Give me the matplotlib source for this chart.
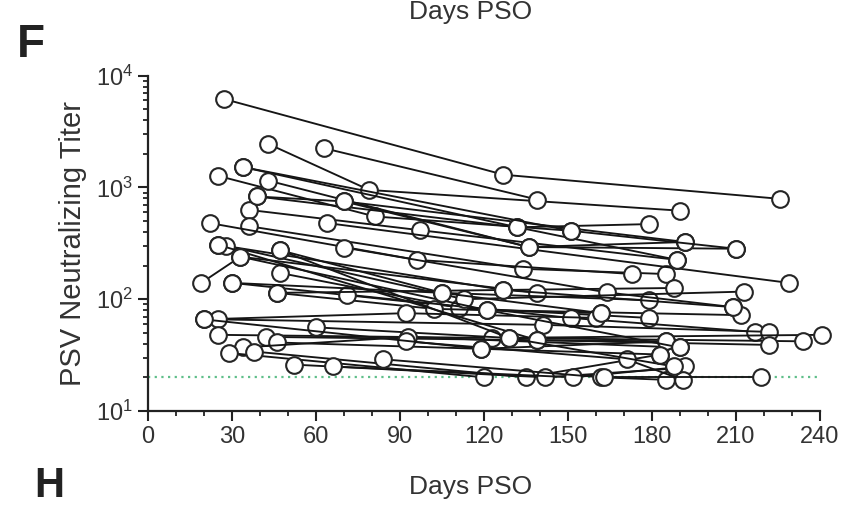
import matplotlib
matplotlib.use('Agg')
import matplotlib.pyplot as plt
from matplotlib.ticker import LogLocator, FixedLocator, NullFormatter

plt.rcParams['font.family'] = ['Liberation Sans', 'DejaVu Sans']
plt.rcParams['mathtext.fontset'] = 'custom'
plt.rcParams['mathtext.rm'] = 'Liberation Sans'
plt.rcParams['mathtext.it'] = 'Liberation Sans'

# days post symptom onset and PSV titer, one list per subject
days = [
    [27, 127, 226], [43, 79, 190], [63, 139], [34, 132, 179],
    [25, 81, 151], [43, 136, 210], [39, 70, 192], [36, 97, 189],
    [36, 134, 185], [22, 96, 173], [64, 229], [25, 127, 188],
    [19, 33, 139], [47, 105, 179], [70, 164, 209], [30, 121, 212],
    [47, 111, 179], [46, 102, 162], [71, 151, 217], [20, 92, 160],
    [25, 141, 222], [25, 123, 241], [60, 129, 234], [42, 139, 222],
    [46, 119, 185], [34, 93, 190], [29, 120], [38, 135, 183],
    [52, 142, 188], [66, 152, 192], [84, 162, 185], [92, 171, 191],
    [163, 219], [28, 113, 213], [25, 139, 185], [33, 121, 190],
    [47, 129, 188], [39, 132, 189], [70, 136, 192], [34, 151, 210],
    [46, 127, 209], [30, 105, 162], [20, 119, 183],
]
titers = [
    [6200, 1300, 790], [2450, 950, 620], [2240, 780], [1520, 440, 470],
    [1270, 550, 410], [1150, 293, 283], [830, 750, 325], [630, 415, 225],
    [450, 187, 168], [480, 225, 168], [480, 140], [307, 121, 126],
    [140, 240, 114], [275, 114, 98], [290, 115, 85], [140, 80, 72],
    [172, 84, 68], [114, 82, 75], [110, 68, 51], [66, 75, 68],
    [66, 59, 51], [48, 45, 48], [56, 45, 42], [46, 43, 39],
    [41, 36, 42], [37, 46, 37], [33, 20], [34, 20, 32],
    [26, 20, 24], [25, 20, 25], [29, 20, 19], [42, 29, 19],
    [20, 20], [300, 100, 117], [307, 43, 42], [240, 80, 37],
    [275, 45, 25], [830, 440, 225], [750, 293, 325], [1520, 410, 283],
    [114, 121, 85], [140, 114, 75], [66, 36, 32],
]
LOD = 20
xticks = [0, 30, 60, 90, 120, 150, 180, 210, 240]

fig = plt.figure(figsize=(8.61, 5.08), dpi=100)
ax = fig.add_axes([0.172, 0.191, 0.780, 0.660])

ax.axhline(LOD, color='#5fbf8a', lw=1.6, ls=(0, (1, 2)), zorder=1)

for d, t in zip(days, titers):
    ax.plot(d, t, color='#151515', lw=1.35, marker='o', ms=12,
            mfc='white', mec='#252525', mew=1.5, clip_on=False, zorder=3)

ax.set_yscale('log')
ax.set_ylim(10, 1e4)
ax.set_xlim(0, 240)
ax.set_yticks([10, 100, 1000, 10000])
ax.set_yticklabels([r'$10^{1}$', r'$10^{2}$', r'$10^{3}$', r'$10^{4}$'])
ax.yaxis.set_minor_locator(LogLocator(base=10, subs=range(2, 10)))
ax.yaxis.set_minor_formatter(NullFormatter())
ax.set_xticks(xticks)
ax.xaxis.set_minor_locator(FixedLocator(range(0, 241, 10)))

for s in ['top', 'right']:
    ax.spines[s].set_visible(False)
for s in ['left', 'bottom']:
    ax.spines[s].set_linewidth(1.6)
    ax.spines[s].set_color('#222222')

ax.tick_params(which='major', length=7, width=1.5, colors='#222222',
               labelsize=17, labelcolor='#333333', pad=4)
ax.tick_params(which='minor', length=3.8, width=1.3, colors='#222222')

ax.set_ylabel('PSV Neutralizing Titer', fontsize=21, color='#333333', labelpad=6)

fig.text(0.546, 0.041, 'Days PSO', fontsize=19, color='#333333', ha='center', va='center')
fig.text(0.546, 0.976, 'Days PSO', fontsize=19, color='#333333', ha='center', va='center')
fig.text(0.020, 0.955, 'F', fontsize=33, fontweight='bold', color='#222222', va='top')
fig.text(0.040, 0.004, 'H', fontsize=30, fontweight='bold', color='#222222', va='bottom')

fig.savefig('out.png', dpi=100)
